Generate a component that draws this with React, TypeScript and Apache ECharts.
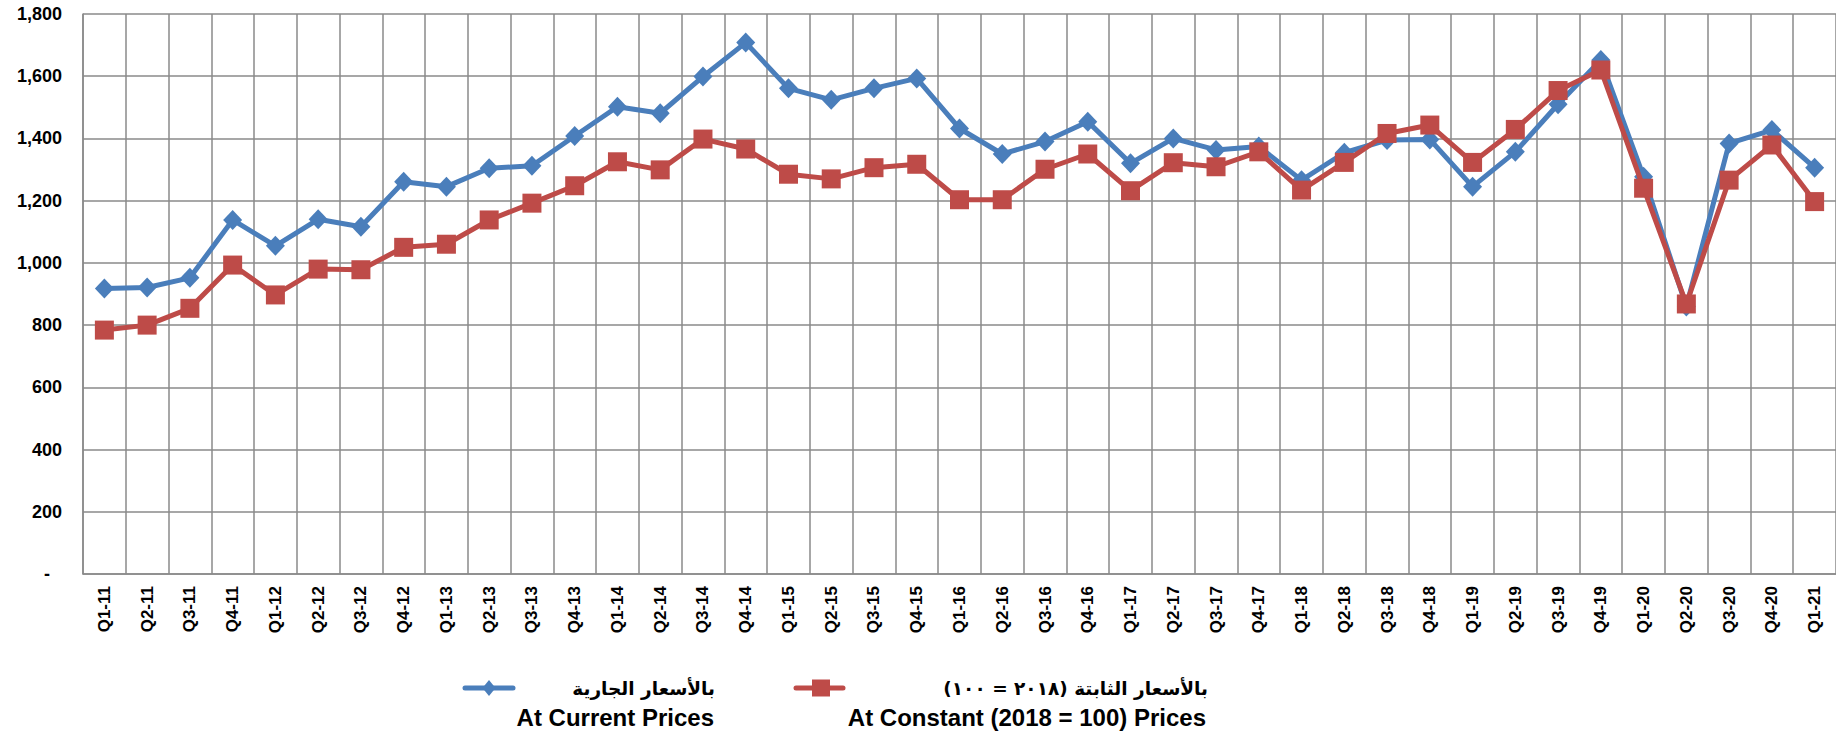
import React, { useEffect, useRef } from "react";
import * as echarts from "echarts";

const categories = [
  "Q1-11", "Q2-11", "Q3-11", "Q4-11",
  "Q1-12", "Q2-12", "Q3-12", "Q4-12",
  "Q1-13", "Q2-13", "Q3-13", "Q4-13",
  "Q1-14", "Q2-14", "Q3-14", "Q4-14",
  "Q1-15", "Q2-15", "Q3-15", "Q4-15",
  "Q1-16", "Q2-16", "Q3-16", "Q4-16",
  "Q1-17", "Q2-17", "Q3-17", "Q4-17",
  "Q1-18", "Q2-18", "Q3-18", "Q4-18",
  "Q1-19", "Q2-19", "Q3-19", "Q4-19",
  "Q1-20", "Q2-20", "Q3-20", "Q4-20",
  "Q1-21",
];

const currentPrices = [
  918, 921, 952, 1138,
  1055, 1140, 1116, 1261,
  1245, 1304, 1312, 1408,
  1502, 1481, 1599, 1708,
  1561, 1524, 1561, 1593,
  1432, 1350, 1390, 1454,
  1320, 1400, 1363, 1374,
  1266, 1354, 1395, 1397,
  1245, 1357, 1510, 1652,
  1277, 860, 1384, 1427,
  1306,
];

const constantPrices = [
  784, 800, 854, 993,
  897, 980, 978, 1050,
  1060, 1138, 1192, 1248,
  1325, 1299, 1398, 1366,
  1285, 1270, 1306, 1317,
  1203, 1203, 1301, 1350,
  1232, 1322, 1309, 1357,
  1234, 1323, 1416, 1443,
  1323, 1429, 1554, 1620,
  1240, 868, 1266, 1379,
  1197,
];

const currentNameAr = "بالأسعار الجارية";
const currentNameEn = "At Current Prices";
const constantNameAr = "بالأسعار الثابتة (٢٠١٨ = ١٠٠)";
const constantNameEn = "At Constant (2018 = 100) Prices";

const BLUE = "#4a7ebb";
const RED = "#be4b48";
const GRID = "#8a8a8a";
const FONT = "'Liberation Sans', Arial, sans-serif";
const AR_FONT = "'DejaVu Sans', 'Liberation Sans', sans-serif";

export default function App() {
  const ref = useRef<HTMLDivElement>(null);

  useEffect(() => {
    if (!ref.current) return;
    const chart = echarts.init(ref.current, undefined, { renderer: "svg" });

    const legendY = 688;
    const legendY2 = 717;

    chart.setOption({
      animation: false,
      backgroundColor: "#ffffff",
      grid: { left: 83, top: 14, right: -4, bottom: 158, containLabel: false },
      xAxis: {
        type: "category",
        data: categories,
        boundaryGap: true,
        axisLine: { show: true, lineStyle: { color: GRID, width: 1.5 } },
        axisTick: { show: false },
        splitLine: { show: true, interval: 0, lineStyle: { color: GRID, width: 1.5 } },
        axisLabel: {
          interval: 0,
          rotate: 90,
          margin: 12,
          color: "#000",
          fontSize: 17,
          fontWeight: "bold",
          fontFamily: FONT,
        },
      },
      yAxis: {
        type: "value",
        min: 0,
        max: 1800,
        interval: 200,
        axisLine: { show: true, lineStyle: { color: GRID, width: 1.5 } },
        axisTick: { show: false },
        splitLine: { show: true, lineStyle: { color: GRID, width: 1.5 } },
        axisLabel: {
          margin: 21,
          color: "#000",
          fontSize: 18,
          fontWeight: "bold",
          fontFamily: FONT,
          formatter: (v: number) =>
            v === 0 ? "{z|-}" : v.toLocaleString("en-US"),
          rich: {
            z: {
              color: "#000",
              fontSize: 18,
              fontWeight: "bold",
              fontFamily: FONT,
              padding: [0, 12, 0, 0],
            },
          },
        },
      },
      series: [
        {
          name: currentNameEn,
          type: "line",
          data: currentPrices,
          symbol: "diamond",
          symbolSize: [19, 20],
          lineStyle: { color: BLUE, width: 5 },
          itemStyle: { color: BLUE },
          z: 2,
        },
        {
          name: constantNameEn,
          type: "line",
          data: constantPrices,
          symbol: "rect",
          symbolSize: 19,
          lineStyle: { color: RED, width: 5 },
          itemStyle: { color: RED },
          z: 3,
        },
      ],
      graphic: [
        {
          type: "line",
          shape: { x1: 465, y1: legendY, x2: 513, y2: legendY },
          style: { stroke: BLUE, lineWidth: 5, lineCap: "round" },
        },
        {
          type: "polygon",
          shape: {
            points: [
              [489, legendY - 8],
              [495.5, legendY],
              [489, legendY + 8],
              [482.5, legendY],
            ],
          },
          style: { fill: BLUE },
        },
        {
          type: "text",
          x: 715,
          y: legendY,
          style: {
            text: "\u202B" + currentNameAr + "\u202C",
            fill: "#000",
            fontSize: 18.5,
            fontWeight: "bold",
            fontFamily: AR_FONT,
            align: "right",
            verticalAlign: "middle",
          },
        },
        {
          type: "text",
          x: 714,
          y: legendY2,
          style: {
            text: currentNameEn,
            fill: "#000",
            fontSize: 24,
            fontWeight: "bold",
            fontFamily: FONT,
            align: "right",
            verticalAlign: "middle",
          },
        },
        {
          type: "line",
          shape: { x1: 796, y1: legendY, x2: 843, y2: legendY },
          style: { stroke: RED, lineWidth: 5, lineCap: "round" },
        },
        {
          type: "rect",
          shape: { x: 812, y: legendY - 8.5, width: 18, height: 17 },
          style: { fill: RED },
        },
        {
          type: "text",
          x: 1208,
          y: legendY,
          style: {
            text: "\u202B" + constantNameAr + "\u202C",
            fill: "#000",
            fontSize: 18.5,
            fontWeight: "bold",
            fontFamily: AR_FONT,
            align: "right",
            verticalAlign: "middle",
          },
        },
        {
          type: "text",
          x: 1206,
          y: legendY2,
          style: {
            text: constantNameEn,
            fill: "#000",
            fontSize: 24,
            fontWeight: "bold",
            fontFamily: FONT,
            align: "right",
            verticalAlign: "middle",
          },
        },
      ],
    });

    return () => chart.dispose();
  }, []);

  return (
    <div
      ref={ref}
      style={{
        position: "absolute",
        left: 0,
        top: 0,
        width: 1836,
        height: 732,
        background: "#fff",
      }}
    />
  );
}
